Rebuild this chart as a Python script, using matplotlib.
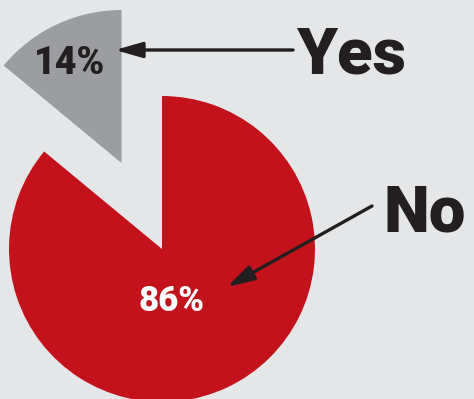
import matplotlib
matplotlib.use("Agg")
import matplotlib.pyplot as plt
from matplotlib.patches import ArrowStyle

labels = ["Yes", "No"]
values = [14, 86]
pct_labels = ["14%", "86%"]

BG = "#e5e6e8"
RED = "#c4121c"
GRAY = "#9c9da1"
DARK = "#231f20"

W, H = 474, 399
fig = plt.figure(figsize=(W / 100, H / 100), dpi=100, facecolor=BG)
ax = fig.add_axes([0, 0, 1, 1])
ax.set_facecolor(BG)

def Y(py):
    return H - py

ax.pie(values, colors=[GRAY, RED], startangle=90, counterclock=True,
       explode=[95, 0], center=(162, Y(249)), radius=153,
       wedgeprops=dict(linewidth=0))

ax.set_xlim(0, W)
ax.set_ylim(0, H)
ax.set_aspect("equal")
ax.axis("off")

font = dict(family=["Roboto", "DejaVu Sans"], fontweight="black")

ax.text(34, Y(74), pct_labels[0], color=DARK, fontsize=27, ha="left", va="baseline", **font)
ax.text(139, Y(311), pct_labels[1], color="white", fontsize=25, ha="left", va="baseline", **font)
ax.text(296, Y(73), labels[0], color=DARK, fontsize=47, ha="left", va="baseline", **font)
ax.text(384, Y(231), labels[1], color=DARK, fontsize=47, ha="left", va="baseline", **font)

style = ArrowStyle("-|>", head_length=16.5, head_width=4.7)
arrowprops = dict(arrowstyle=style, mutation_scale=1, lw=2.4, color=DARK,
                  shrinkA=0, shrinkB=0)
ax.annotate("", xy=(115, Y(50)), xytext=(293, Y(50)), arrowprops=arrowprops)
ax.annotate("", xy=(227, Y(287)), xytext=(372, Y(206)), arrowprops=arrowprops)

fig.savefig("out.png", dpi=100, facecolor=BG)
